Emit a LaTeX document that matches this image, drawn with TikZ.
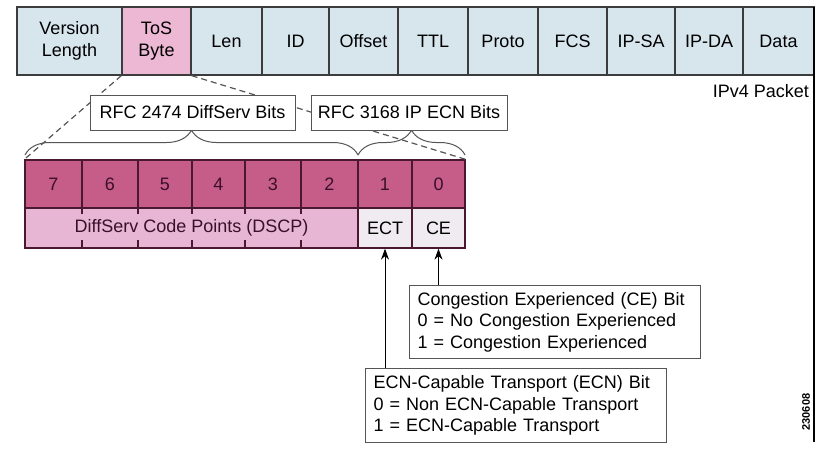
\documentclass[tikz,border=0pt]{standalone}
\usepackage{fontspec}
\setmainfont{Liberation Sans}
\usetikzlibrary{arrows.meta,decorations.pathreplacing,calc}
\definecolor{cellblue}{HTML}{D7E5ED}
\definecolor{tospink}{HTML}{ECB8D4}
\definecolor{bitdark}{HTML}{C65D88}
\definecolor{bitlight}{HTML}{E6B6D4}
\definecolor{bitpale}{HTML}{F0EBF1}
\definecolor{edgegray}{HTML}{3C3C3C}
\definecolor{bitedge}{HTML}{4A1830}
\definecolor{bittext}{HTML}{3A1028}
\definecolor{linegray}{HTML}{555555}
\begin{document}
\begin{tikzpicture}[x=1pt,y=-1pt,
  font=\fontsize{18}{21.5}\selectfont,
  topcell/.style={draw=edgegray,line width=1.3pt,fill=cellblue,align=center,inner sep=0pt,minimum height=68pt},
  bitcell/.style={draw=bitedge,line width=1.3pt,fill=bitdark,text=bittext,inner sep=0pt,minimum height=48pt},
  lowcell/.style={draw=bitedge,line width=1.3pt,fill=bitpale,inner sep=0pt,minimum height=40pt},
  labelbox/.style={draw=linegray,line width=0.9pt,fill=white,inner sep=0pt,minimum height=35pt},
  notebox/.style={draw=linegray,line width=1.1pt,fill=white,align=left,inner xsep=8pt,inner ysep=0pt,anchor=north west},
  guide/.style={draw=linegray,line width=1.2pt,dash pattern=on 6pt off 4pt},
  bracesty/.style={draw=linegray,line width=1pt,decorate,decoration={brace,amplitude=25pt}},
  pointer/.style={draw=black,line width=1pt,-{Stealth[length=11pt,width=8pt]}}]
\useasboundingbox (0,0) rectangle (827,450);
\fill[white] (0,0) rectangle (827,450);

% IPv4 packet header bar
\foreach \l/\r/\t/\n in {17/122/{Version\\Length}/ver,191/262/Len/len,262/329/ID/id,329/398/Offset/off,398/468/TTL/ttl,468/538/Proto/proto,538/607/FCS/fcs,607/675/IP-SA/ipsa,675/743/IP-DA/ipda,743/814/Data/data}
  \node[topcell,minimum width=\r pt-\l pt] (\n) at ({(\l+\r)/2},41) {\t};
\node[topcell,fill=tospink,minimum width=69pt] (tos) at (156.5,41) {ToS\\Byte};

% right frame line
\coordinate (frametop) at (814,7);
\coordinate (framebot) at (814,442);
\draw[black,line width=2pt] (frametop) -- (framebot);

\node[anchor=east,inner sep=0pt] (ipv4) at (809,91) {IPv4 Packet};

% bit cells (top row)
\foreach \l/\r/\t in {25/82/7,82/138/6,138/192/5,192/245/4,245/301/3,301/358/2,358/412/1,412/465/0}
  \node[bitcell,minimum width=\r pt-\l pt] (b\t) at ({(\l+\r)/2},184) {\t};

% bottom row
\node[lowcell,fill=bitlight,text=bittext,minimum width=333pt] (dscp) at (191.5,228) {DiffServ Code Points (DSCP)};
\node[lowcell,minimum width=54pt] (ect) at (385,228) {ECT};
\node[lowcell,minimum width=53pt] (ce) at (438.5,228) {CE};
\foreach \x in {82,138,192,245,301}{
  \draw[bitedge,line width=1.2pt] (\x,208) -- (\x,214);
  \draw[bitedge,line width=1.2pt] (\x,240) -- (\x,248);
}

% dashed guides from ToS byte to bit field
\draw[guide] (tos.south west) -- (b7.north west);
\draw[guide] (tos.south east) -- (b0.north east);

% braces
\coordinate (brA) at (25,155);
\coordinate (brB) at (358,155);
\coordinate (brC) at (465,155);
\draw[bracesty] (brA) -- (brB);
\draw[bracesty] (brB) -- (brC);

% labels
\node[labelbox,minimum width=205pt] (rfcA) at (192.5,112.5) {RFC 2474 DiffServ Bits};
\node[labelbox,minimum width=196pt] (rfcB) at (409,112.5) {RFC 3168 IP ECN Bits};

% notes
\node[notebox,minimum width=291pt,minimum height=73pt,text width=275pt] (cebox) at (409,285)
  {Congestion Experienced (CE) Bit\\0 = No Congestion Experienced\\1 = Congestion Experienced};
\node[notebox,minimum width=301pt,minimum height=74pt,text width=285pt] (ecnbox) at (365,368)
  {ECN-Capable Transport (ECN) Bit\\0 = Non ECN-Capable Transport\\1 = ECN-Capable Transport};

% pointers
\draw[pointer] (ect.south |- ecnbox.north) -- (ect.south);
\draw[pointer] (ce.south |- cebox.north) -- (ce.south);

% figure number
\node[rotate=90,font=\fontsize{11}{12}\selectfont\bfseries,inner sep=0pt] (fignum) at (806,412) {230608};
\end{tikzpicture}
\end{document}
